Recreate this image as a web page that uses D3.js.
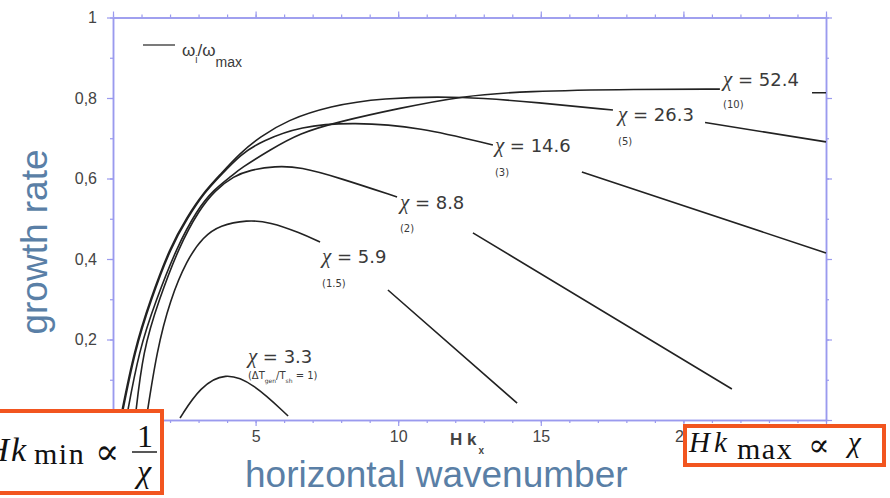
<!DOCTYPE html>
<html>
<head>
<meta charset="utf-8">
<script src="https://cdn.jsdelivr.net/npm/d3@7"></script>
<style>
  body { margin: 0; background: #fff; }
  svg { display: block; }
</style>
</head>
<body>
<svg id="chart" width="890" height="498"></svg>
<script>
const xLabels = [5, 10, 15, 20];
const yLabels = [0.2, 0.4, 0.6, 0.8, 1];
const yLabelText = ['0,2', '0,4', '0,6', '0,8', '1'];

const chi = ['52.4', '26.3', '14.6', '8.8', '5.9', '3.3'];
const notes = ['(10)', '(5)', '(3)', '(2)', '(1.5)', null];

// growth rate [H k_x, omega_i / omega_max], null = gap where the label sits
const chi52 = [[0.46, 0], [0.91, 0.174], [1.51, 0.298], [2.24, 0.43], [2.95, 0.522],
  [3.51, 0.571], [4.21, 0.609], [4.45, 0.624], [5.5, 0.671], [6.56, 0.713],
  [7.85, 0.74], [10.06, 0.775], [12.27, 0.805], [14.38, 0.817], [18.48, 0.822],
  [21.28, 0.822], null, [24.51, 0.813], [25, 0.813]];
const chi26 = [[0.25, 0], [0.74, 0.174], [1.3, 0.298], [2.0, 0.43], [2.59, 0.504],
  [3.16, 0.564], [3.75, 0.609], [4.45, 0.663], [5.15, 0.703], [6.1, 0.745],
  [7.61, 0.78], [9.36, 0.8], [12.27, 0.805], [14.97, 0.788], [17.53, 0.77],
  null, [20.76, 0.739], [25, 0.691]];
const chi14 = [[0.28, 0], [0.77, 0.174], [1.33, 0.298], [2.03, 0.43], [2.63, 0.504],
  [3.19, 0.564], [3.79, 0.609], [4.49, 0.661], [5.22, 0.693], [6.56, 0.73],
  [8.42, 0.74], [10.76, 0.728], [13.32, 0.683], null, [16.44, 0.616], [25, 0.415]];
const chi8 = [[0.77, 0], [1.05, 0.174], [1.61, 0.298], [2.31, 0.43], [3.02, 0.522],
  [3.58, 0.571], [4.24, 0.606], [4.8, 0.621], [5.68, 0.631], [6.56, 0.629],
  [7.96, 0.601], [9.96, 0.554], null, [12.62, 0.465], [21.7, 0.077]];
const chi5 = [[1.16, 0], [1.54, 0.174], [2.0, 0.298], [2.59, 0.398], [3.16, 0.455],
  [3.75, 0.484], [4.7, 0.497], [5.5, 0.492], [6.56, 0.465], [7.26, 0.442],
  null, [9.64, 0.323], [14.17, 0.042]];
const chi3 = [[2.35, 0.005], [3.05, 0.082], [3.93, 0.119], [4.91, 0.092], [6.14, 0.01]];
const curves = [chi52, chi26, chi14, chi8, chi5, chi3];

// label baselines in data units
const labelAt = [[21.39, 0.83], [17.71, 0.744], [13.39, 0.667], [10.06, 0.524], [7.33, 0.39], [4.73, 0.142]];
const noteAt = [[21.39, 0.775], [17.71, 0.683], [13.39, 0.606], [10.06, 0.467], [7.33, 0.33], [4.73, 0.102]];

const svg = d3.select('#chart');
const width = +svg.attr('width');
const height = +svg.attr('height');
const margin = { top: 17.5, right: 64, bottom: 78, left: 113 };
const axisColor = '#9a9aee';
const textColor = '#3a3a3a';
const blue = '#5a7fa6';
const orange = '#f2551f';
const sans = '"Liberation Sans", Arial, sans-serif';

const x = d3.scaleLinear().domain([0, 25]).range([margin.left, width - margin.right]);
const y = d3.scaleLinear().domain([0, 1]).range([height - margin.bottom, margin.top]);

svg.append('rect').attr('width', width).attr('height', height).attr('fill', '#fff');

const styleAxis = g => {
  g.attr('font-family', sans).attr('font-size', 16);
  g.selectAll('.domain').attr('stroke', axisColor).attr('stroke-width', 1.5);
  g.selectAll('.tick line').attr('stroke', axisColor).attr('stroke-width', 1.2);
  g.selectAll('text').attr('fill', '#444');
};

const xMinor = d3.range(0, 26);
const xMajor = d3.range(0, 26, 5);
const yMinor = d3.range(0, 11).map(d => d / 10);
const yMajor = d3.range(0, 6).map(d => d / 5);
const bottom = height - margin.bottom;
const right = width - margin.right;

const axes = svg.append('g');

axes.append('g')
  .attr('transform', `translate(0,${bottom})`)
  .call(d3.axisBottom(x).tickValues(xMinor).tickSize(3).tickSizeOuter(0).tickFormat(''))
  .call(styleAxis);
axes.append('g')
  .attr('transform', `translate(0,${bottom})`)
  .call(d3.axisBottom(x).tickValues(xMajor).tickSize(6).tickSizeOuter(0).tickPadding(5)
    .tickFormat(d => (xLabels.includes(d) ? d : '')))
  .call(styleAxis);
axes.append('g')
  .attr('transform', `translate(0,${margin.top})`)
  .call(d3.axisTop(x).tickValues(xMinor).tickSize(3).tickSizeOuter(0).tickFormat(''))
  .call(styleAxis);
axes.append('g')
  .attr('transform', `translate(0,${margin.top})`)
  .call(d3.axisTop(x).tickValues(xMajor).tickSize(6).tickSizeOuter(0).tickFormat(''))
  .call(styleAxis);

axes.append('g')
  .attr('transform', `translate(${margin.left},0)`)
  .call(d3.axisLeft(y).tickValues(yMinor).tickSize(3).tickSizeOuter(0).tickFormat(''))
  .call(styleAxis);
axes.append('g')
  .attr('transform', `translate(${margin.left},0)`)
  .call(d3.axisLeft(y).tickValues(yMajor).tickSize(6).tickSizeOuter(0).tickPadding(10)
    .tickFormat(d => {
      const i = yLabels.findIndex(v => Math.abs(v - d) < 1e-9);
      return i < 0 ? '' : yLabelText[i];
    }))
  .call(styleAxis);
axes.append('g')
  .attr('transform', `translate(${right},0)`)
  .call(d3.axisRight(y).tickValues(yMinor).tickSize(3).tickSizeOuter(0).tickFormat(''))
  .call(styleAxis);
axes.append('g')
  .attr('transform', `translate(${right},0)`)
  .call(d3.axisRight(y).tickValues(yMajor).tickSize(6).tickSizeOuter(0).tickFormat(''))
  .call(styleAxis);

// curves
const line = d3.line()
  .defined(d => d !== null)
  .x(d => x(d[0]))
  .y(d => y(d[1]))
  .curve(d3.curveBasis);

svg.append('g')
  .selectAll('path')
  .data(curves)
  .join('path')
  .attr('d', line)
  .attr('fill', 'none')
  .attr('stroke', '#222')
  .attr('stroke-width', 1.6);

// curve labels
const labels = svg.append('g')
  .attr('font-family', '"DejaVu Sans", sans-serif')
  .attr('fill', textColor);

chi.forEach((c, i) => {
  const t = labels.append('text')
    .attr('x', x(labelAt[i][0]))
    .attr('y', y(labelAt[i][1]))
    .attr('font-size', 18);
  t.append('tspan')
    .attr('font-family', '"Liberation Serif", serif')
    .attr('font-style', 'italic')
    .attr('font-size', 21)
    .text('χ');
  t.append('tspan').text(` = ${c}`);

  const n = labels.append('text')
    .attr('x', x(noteAt[i][0]))
    .attr('y', y(noteAt[i][1]))
    .attr('font-size', 10);
  if (notes[i]) {
    n.text(notes[i]);
  } else {
    n.append('tspan').text('(ΔT');
    n.append('tspan').attr('font-size', 6).attr('dy', 4).text('gen');
    n.append('tspan').attr('dy', -4).text('/T');
    n.append('tspan').attr('font-size', 6).attr('dy', 4).text('sh');
    n.append('tspan').attr('dy', -4).text(' = 1)');
  }
});

// legend
const legend = svg.append('g')
  .attr('font-family', sans)
  .attr('fill', textColor);
legend.append('line')
  .attr('x1', 143).attr('x2', 175)
  .attr('y1', 45).attr('y2', 45)
  .attr('stroke', '#333').attr('stroke-width', 1.3);
const lt = legend.append('text').attr('x', 182).attr('y', 56).attr('font-size', 17);
lt.append('tspan').text('ω');
lt.append('tspan').attr('font-size', 10).attr('dy', 7).text('i');
lt.append('tspan').attr('dy', -7).text('/ω');
lt.append('tspan').attr('font-size', 14).attr('dy', 11).text('max');

// axis titles
const hk = svg.append('text')
  .attr('x', 450).attr('y', 445)
  .attr('font-family', sans)
  .attr('font-weight', 'bold')
  .attr('font-size', 17)
  .attr('fill', '#444');
hk.append('tspan').text('H k');
hk.append('tspan').attr('font-size', 10).attr('dy', 9).attr('dx', 2).text('x');

svg.append('text')
  .attr('x', 245).attr('y', 487)
  .attr('font-family', sans)
  .attr('font-size', 37)
  .attr('fill', blue)
  .text('horizontal wavenumber');

svg.append('text')
  .attr('transform', 'translate(47,242) rotate(-90)')
  .attr('text-anchor', 'middle')
  .attr('font-family', sans)
  .attr('font-size', 37)
  .attr('fill', blue)
  .text('growth rate');

// annotation boxes
const serif = '"Liberation Serif", "Times New Roman", serif';
const box1 = svg.append('g').attr('font-family', serif).attr('fill', '#111');
box1.append('rect')
  .attr('x', -10).attr('y', 411).attr('width', 172).attr('height', 82)
  .attr('fill', '#fff').attr('stroke', orange).attr('stroke-width', 4);
box1.append('text').attr('x', 9).attr('y', 461).attr('font-size', 34)
  .attr('font-style', 'italic').attr('text-anchor', 'end').text('H');
box1.append('text').attr('x', 11).attr('y', 461).attr('font-size', 34).attr('font-style', 'italic').text('k');
box1.append('text').attr('x', 34).attr('y', 464).attr('font-size', 30)
  .attr('letter-spacing', 1.5).text('min');
box1.append('text').attr('x', 95).attr('y', 464).attr('font-size', 36)
  .attr('font-family', '"DejaVu Serif", serif').text('∝');
box1.append('text').attr('x', 145).attr('y', 447).attr('text-anchor', 'middle').attr('font-size', 32).text('1');
box1.append('line')
  .attr('x1', 132).attr('x2', 157).attr('y1', 452).attr('y2', 452)
  .attr('stroke', '#111').attr('stroke-width', 1.4);
box1.append('text').attr('x', 144).attr('y', 482).attr('text-anchor', 'middle')
  .attr('font-size', 32).attr('font-style', 'italic').text('χ');

const box2 = svg.append('g').attr('font-family', serif).attr('fill', '#111');
box2.append('rect')
  .attr('x', 685).attr('y', 426).attr('width', 199).attr('height', 39)
  .attr('fill', '#fff').attr('stroke', orange).attr('stroke-width', 4);
box2.append('text').attr('x', 689).attr('y', 452).attr('font-size', 29).attr('font-style', 'italic').text('H');
box2.append('text').attr('x', 714).attr('y', 452).attr('font-size', 29).attr('font-style', 'italic').text('k');
box2.append('text').attr('x', 737).attr('y', 459).attr('font-size', 30)
  .attr('letter-spacing', 1.5).text('max');
box2.append('text').attr('x', 808).attr('y', 456).attr('font-size', 32)
  .attr('font-family', '"DejaVu Serif", serif').text('∝');
box2.append('text').attr('x', 848).attr('y', 452).attr('font-size', 29).attr('font-style', 'italic').text('χ');
</script>
</body>
</html>
